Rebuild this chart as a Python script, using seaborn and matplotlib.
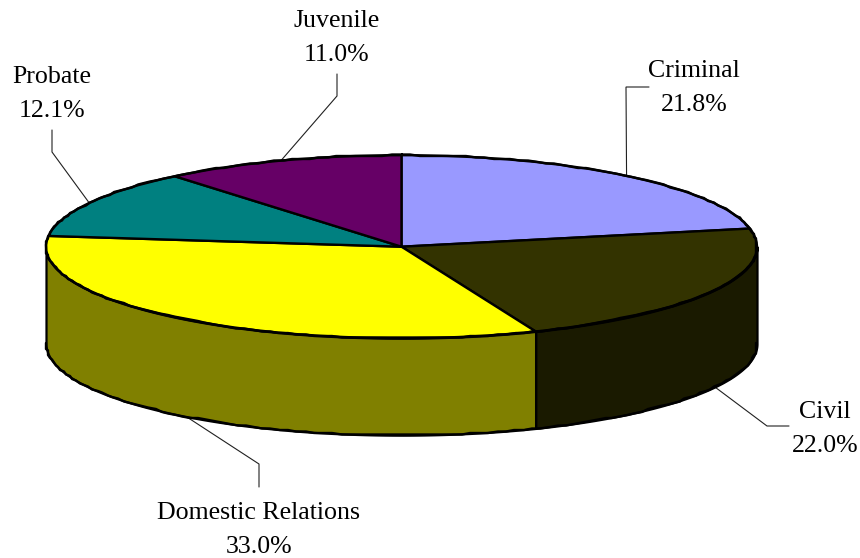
import matplotlib.pyplot as plt
import numpy as np
import seaborn as sns

categories = ['Criminal', 'Civil', 'Domestic Relations', 'Probate', 'Juvenile']
shares = [21.8, 22.0, 33.0, 12.1, 11.0]
share_labels = ['21.8%', '22.0%', '33.0%', '12.1%', '11.0%']
top_colors = ['#9999FF', '#333300', '#FFFF00', '#008080', '#660066']
wall_colors = ['#4D4D80', '#1A1A00', '#808000', '#004040', '#330033']

# pie geometry in pixels of the 860x558 picture
CX, CY, RX, RY, DEPTH = 401.5, 246.7, 355.5, 91.5, 97

# label centre, leader elbow, leader end (pixels)
label_pos = [(694, 88), (825, 429), (259, 530), (52, 94), (337, 38)]
leaders = [
    [(626, 87), (649, 87)],
    [(767, 426), (789, 426)],
    [(259, 464), (259, 487)],
    [(52, 152), (52, 130)],
    [(337, 96), (337, 74)],
]
on_wall = [False, True, True, False, False]


def to_unit(x, y):
    return (x - CX) / RX, (CY - y) / RY


def rough_arc(a, b, drop=0.0):
    # old chart export look: curve snapped to a coarse pixel grid
    t = np.radians(np.linspace(a, b, int((b - a) / 1.5) + 2))
    px = np.round((CX + RX * np.sin(t)) / 2) * 2
    py = np.round((CY - RY * np.cos(t)) / 1.5) * 1.5
    return (px - CX) / RX, (CY - py) / RY - drop


sns.set_theme(style='white')
plt.rcParams['font.family'] = ['Liberation Serif', 'DejaVu Serif']

fig, ax = plt.subplots(figsize=(8.6, 5.58), dpi=100)
fig.subplots_adjust(0, 0, 1, 1)

fractions = np.array(shares) / sum(shares)
ends = np.cumsum(fractions) * 360
starts = ends - fractions * 360
depth = DEPTH / RY

# side wall, only the front half of the disc shows
for start, end, color in zip(starts, ends, wall_colors):
    lo, hi = max(start, 90), min(end, 270)
    if lo >= hi:
        continue
    t = np.radians(np.linspace(lo, hi, 200))
    ax.fill_between(np.sin(t), np.cos(t), np.cos(t) - depth, color=color,
                    edgecolor='black', linewidth=1.6, zorder=1)

ax.pie(shares, colors=sns.color_palette(top_colors), startangle=90, counterclock=False,
       wedgeprops={'edgecolor': 'black', 'linewidth': 1.7})
for w in ax.patches:
    w.set_zorder(2)

# outlines with the scalloped look
x_top, y_top = rough_arc(0, 360)
ax.plot(x_top, y_top, color='black', linewidth=1.7, zorder=3)
x_bot, y_bot = rough_arc(90, 270, drop=depth)
ax.plot(x_bot, y_bot, color='black', linewidth=1.7, zorder=3)

# pie() forces equal aspect, the squashed disc needs it off
ax.set_aspect('auto')
ax.set_xlim(-CX / RX, (860 - CX) / RX)
ax.set_ylim((CY - 558) / RY, CY / RY)
ax.axis('off')

for i, name in enumerate(categories):
    mid = np.radians((starts[i] + ends[i]) / 2)
    x0, y0 = np.sin(mid), np.cos(mid) - (depth if on_wall[i] else 0)
    pts = [to_unit(*p) for p in leaders[i]]
    xs = [x0] + [p[0] for p in pts]
    ys = [y0] + [p[1] for p in pts]
    ax.plot(xs, ys, color='#202020', linewidth=0.8, zorder=0, solid_joinstyle='miter')
    lx, ly = to_unit(*label_pos[i])
    ax.text(lx, ly, name + '\n' + share_labels[i], ha='center', va='center',
            fontsize=18.6, color='black', linespacing=1.72, zorder=4)

fig.savefig('out.png', dpi=100, facecolor='white')
